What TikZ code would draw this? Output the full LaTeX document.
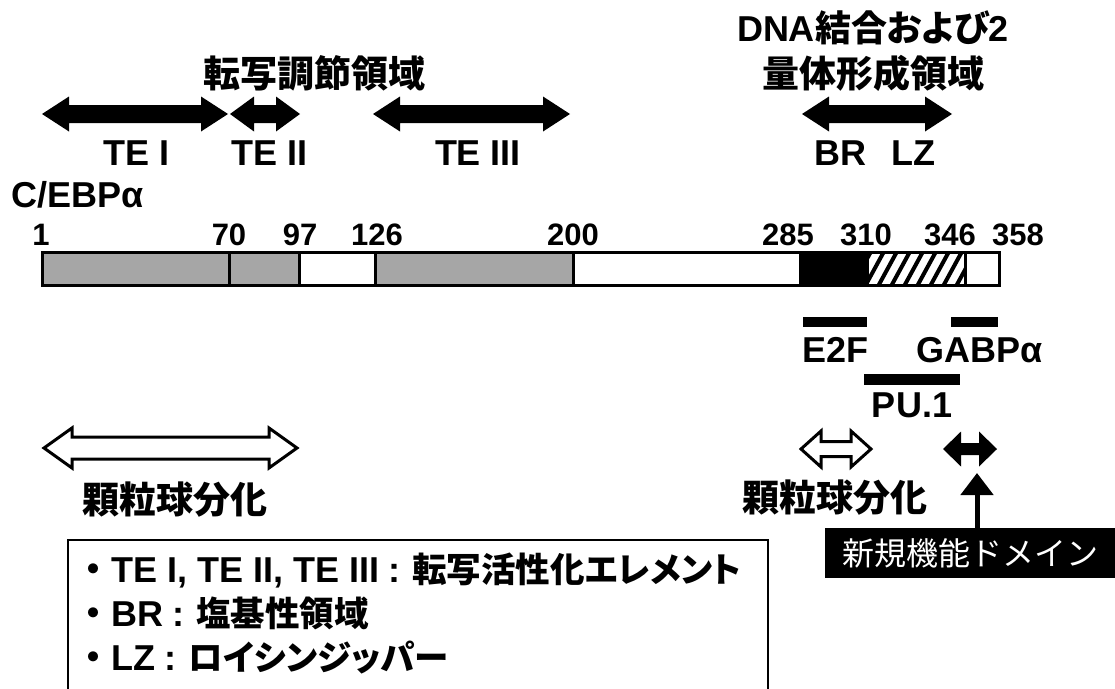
\documentclass[tikz,border=0pt]{standalone}
\usepackage{fontspec}
\setmainfont{Liberation Sans}
\newfontfamily\jp{Noto Sans CJK JP}[RawFeature=+palt]
\newfontfamily\jpw{Noto Sans CJK JP}
\usetikzlibrary{arrows.meta}
\newcommand\dblarr[7]{% style, xa, xb, y, h, H, L
 \path[#1] (#2,#4) -- ({#2+#7},{#4-#6}) -- ({#2+#7},{#4-#5}) -- ({#3-#7},{#4-#5}) -- ({#3-#7},{#4-#6}) -- (#3,#4) -- ({#3-#7},{#4+#6}) -- ({#3-#7},{#4+#5}) -- ({#2+#7},{#4+#5}) -- ({#2+#7},{#4+#6}) -- cycle;}
\newcommand\lcolon{\hspace{9pt}:\hspace{12pt}}
\tikzset{
 lbl/.style={font=\fontsize{36}{40}\selectfont\bfseries, inner sep=0pt, anchor=base},
 num/.style={font=\fontsize{31}{34}\selectfont\bfseries, inner sep=0pt, anchor=base},
 jl/.style={font=\fontsize{37}{42}\selectfont\bfseries\jp, inner sep=0pt, anchor=base},
 leg/.style={font=\fontsize{36}{40}\selectfont\bfseries, inner sep=0pt, anchor=base west},
 legj/.style={font=\fontsize{34.5}{40}\selectfont\bfseries\jp},
 blk/.style={fill=black},
 wht/.style={fill=white, draw=black, line width=3pt, line join=miter},
 seg/.style={draw=black, line width=3pt},
 hbar/.style={fill=black},
}
\begin{document}
\begin{tikzpicture}[x=1pt,y=-1pt]
\useasboundingbox[fill=white] (0,0) rectangle (1115,688);
% titles
\node[jl] (trtitle) at (314,87) {転写調節領域};
\node[lbl] (dna1) at (873,41) {DNA{\jp 結合および}2};
\node[jl] (dna2) at (873,87) {量体形成領域};
% black double arrows
\dblarr{blk}{42}{228}{114}{9}{17.5}{27}
\dblarr{blk}{230}{300}{114}{9}{17.5}{24}
\dblarr{blk}{373}{570}{114}{9}{17.5}{27}
\dblarr{blk}{802}{952}{114}{9}{17.5}{27}
\node[lbl] (te1) at (137,165) {TE I};
\node[lbl] (te2) at (270,165) {TE II};
\node[lbl] (te3) at (478,165) {TE III};
\node[lbl] (br) at (840,165) {BR};
\node[lbl] (lz) at (913,165) {LZ};
\node[lbl, anchor=base west] (cebp) at (11,207) {C/EBPα};
% numbers
\node[num] (n1) at (41,245) {1};
\node[num] (n70) at (229,245) {70};
\node[num] (n97) at (300,245) {97};
\node[num] (n126) at (377,245) {126};
\node[num] (n200) at (573,245) {200};
\node[num] (n285) at (788,245) {285};
\node[num] (n310) at (866,245) {310};
\node[num] (n346) at (950,245) {346};
\node[num] (n358) at (1018,245) {358};
% bar
\fill[gray!70] (42,252) rectangle (573,285);
\fill[white] (299,252) rectangle (375,285);
\fill[white] (573,252) rectangle (800,285);
\fill[black] (800,252) rectangle (867,285);
\fill[white] (867,252) rectangle (999,285);
\begin{scope}
\clip (867,254) rectangle (965,283);
\foreach \i in {0,...,10} \draw[line width=4pt] ({850+\i*13},290) -- ({850+\i*13+24},246);
\end{scope}
\draw[seg] (42,252) rectangle (999,285);
\foreach \xx in {229,299,375,573,800,867,965} \draw[seg] (\xx,252) -- (\xx,285);
% binding bars
\fill[hbar] (803,317) rectangle (867,327);
\fill[hbar] (951,317) rectangle (998,327);
\fill[hbar] (864,374) rectangle (960,385);
\node[lbl] (e2f) at (835,362) {E2F};
\node[lbl] (gabp) at (980,362) {GABPα};
\node[lbl] (pu1) at (912,417) {PU.1};
% lower arrows
\dblarr{wht}{44}{297}{448}{11}{20}{28}
\dblarr{wht}{801}{871}{449}{7.5}{18}{20}
\dblarr{blk}{943}{997}{449}{6}{17.5}{18}
\node[jl] (gr1) at (175,513) {顆粒球分化};
\node[jl] (gr2) at (835,511) {顆粒球分化};
% new domain
\node[fill=black, text=white, font=\fontsize{32}{36}\selectfont\jpw, minimum width=290pt, minimum height=50pt, inner sep=0pt] (nf) at (970,553) {新規機能ドメイン};
\coordinate (nftip) at (977,473);
\draw[line width=5pt, -{Triangle[length=22pt,width=32pt]}] (nf.north -| nftip) -- (nftip);
% legend
\draw[line width=2pt] (68,540) rectangle (768,700);
\node[leg] (l1) at (75,582) {{\jpw ・}TE I, TE II, TE III\lcolon{\fontsize{34.5}{40}\selectfont\jp 転写活性化エレメント}};
\node[leg] (l2) at (75,626) {{\jpw ・}BR\lcolon{\fontsize{34.5}{40}\selectfont\jp 塩基性領域}};
\node[leg] (l3) at (75,670) {{\jpw ・}LZ\lcolon{\fontsize{34.5}{40}\selectfont\jp ロイシンジッパー}};
\end{tikzpicture}
\end{document}
